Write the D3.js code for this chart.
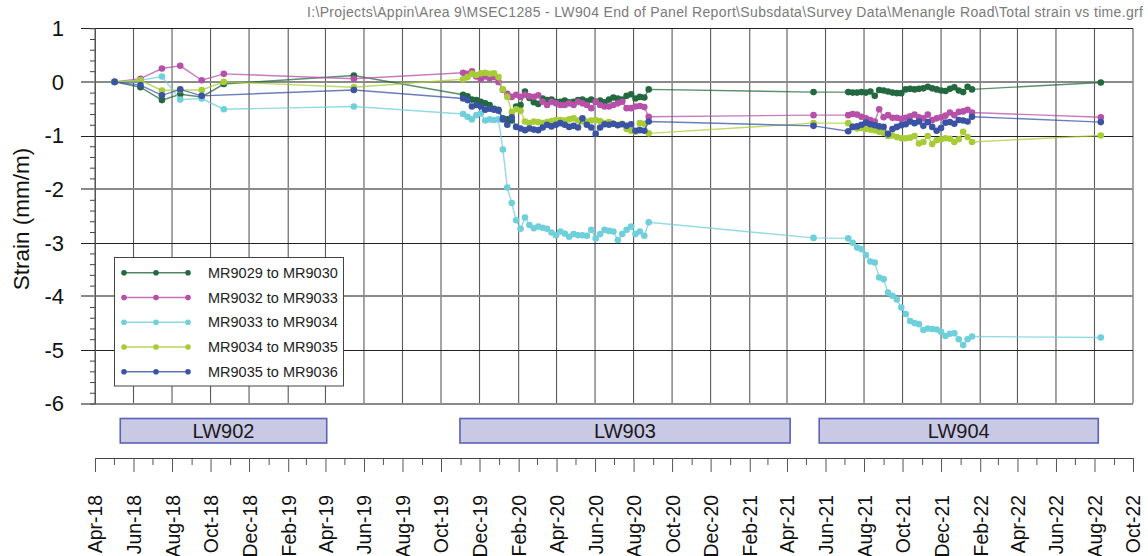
<!DOCTYPE html>
<html>
<head>
<meta charset="utf-8">
<script src="https://cdn.jsdelivr.net/npm/d3@7/dist/d3.min.js"></script>
<style>
  html, body { margin: 0; padding: 0; background: #fff; }
  svg { display: block; font-family: "Liberation Sans", Arial, sans-serif; }
</style>
</head>
<body>
<svg id="chart" width="1148" height="556"></svg>
<script>
// Survey dates (shared by all bays)
const surveyDates = [
  "2018-05-02","2018-06-12","2018-07-16","2018-08-14","2018-09-17","2018-10-22","2019-05-16",
  "2019-11-05","2019-11-12","2019-11-19","2019-11-26","2019-12-03","2019-12-10","2019-12-17","2019-12-24","2019-12-31",
  "2020-01-07","2020-01-14","2020-01-21","2020-01-28","2020-02-04","2020-02-11","2020-02-18","2020-02-25",
  "2020-03-03","2020-03-10","2020-03-17","2020-03-24","2020-03-31","2020-04-07","2020-04-14","2020-04-21","2020-04-28",
  "2020-05-05","2020-05-12","2020-05-19","2020-05-26","2020-06-02","2020-06-09","2020-06-16","2020-06-23","2020-06-30",
  "2020-07-07","2020-07-14","2020-07-21","2020-07-28","2020-08-04","2020-08-11","2020-08-18","2020-08-25",
  "2021-05-13",
  "2021-07-07","2021-07-14","2021-07-21","2021-07-28","2021-08-04","2021-08-11","2021-08-18","2021-08-25",
  "2021-09-01","2021-09-08","2021-09-15","2021-09-22","2021-09-29","2021-10-06","2021-10-13","2021-10-20","2021-10-27",
  "2021-11-03","2021-11-10","2021-11-17","2021-11-24","2021-12-01","2021-12-08","2021-12-15","2021-12-22","2021-12-29",
  "2022-01-05","2022-01-12","2022-01-19",
  "2022-08-11"
];

// Total strain (mm/m) per bay, one value per survey date (null = not surveyed)
const mr9029_mr9030 = [
  0, -0.10, -0.34, -0.23, -0.28, -0.04, 0.12,
  -0.24, -0.27, -0.33, -0.34, -0.37, -0.40, -0.43, -0.50, -0.52,
  -0.68, -0.70, -0.72, -0.46, -0.43, -0.18, -0.30, -0.38,
  -0.41, -0.31, -0.34, -0.33, -0.37, -0.37, -0.35, -0.38, -0.37,
  -0.34, -0.33, -0.36, -0.33, -0.37, -0.35, -0.38, -0.33, -0.29,
  -0.31, -0.33, -0.26, -0.23, -0.31, -0.28, -0.29, -0.14,
  -0.19,
  -0.19, -0.20, -0.20, -0.19, -0.20, -0.18, -0.26, -0.15,
  -0.16, -0.18, -0.20, -0.21, -0.21, -0.14, -0.13, -0.14, -0.13,
  -0.12, -0.09, -0.12, -0.14, -0.16, -0.17, -0.13, -0.10, -0.16,
  -0.19, -0.09, -0.14,
  -0.01
];
const mr9032_mr9033 = [
  0, 0.06, 0.25, 0.30, 0.03, 0.15, 0.06,
  0.17, 0.15, 0.20, 0.10, 0.05, 0.10, 0.07, 0.09, 0.00,
  -0.15, -0.22, -0.28, -0.24, -0.28, -0.24, -0.27, -0.28,
  -0.25, -0.37, -0.43, -0.37, -0.40, -0.43, -0.43, -0.40, -0.43,
  -0.37, -0.40, -0.43, -0.49, -0.37, -0.43, -0.46, -0.46, -0.43,
  -0.40, -0.37, -0.49, -0.49, -0.46, -0.45, -0.47, -0.65,
  -0.62,
  -0.62, -0.60, -0.61, -0.65, -0.68, -0.71, -0.74, -0.51,
  -0.66, -0.62, -0.67, -0.67, -0.69, -0.67, -0.64, -0.61, -0.66,
  -0.68, -0.61, -0.71, -0.68, -0.66, -0.63, -0.57, -0.62, -0.56,
  -0.55, -0.52, -0.57,
  -0.66
];
const mr9033_mr9034 = [
  0, 0.03, 0.10, -0.33, -0.31, -0.51, -0.46,
  -0.60, -0.65, -0.70, -0.62, -0.59, -0.72, -0.70, -0.71, -0.70,
  -1.26, -1.97, -2.26, -2.58, -2.74, -2.53, -2.67, -2.73,
  -2.70, -2.72, -2.74, -2.81, -2.86, -2.79, -2.83, -2.89, -2.84,
  -2.86, -2.86, -2.87, -2.76, -2.92, -2.84, -2.76, -2.78, -2.79,
  -2.95, -2.84, -2.76, -2.70, -2.84, -2.79, -2.87, -2.62,
  -2.91,
  -2.92, -3.00, -3.09, -3.12, -3.23, -3.35, -3.37, -3.65,
  -3.68, -3.93, -3.99, -4.06, -4.21, -4.33, -4.46, -4.50, -4.52,
  -4.63, -4.60, -4.61, -4.62, -4.66, -4.74, -4.70, -4.69, -4.80,
  -4.91, -4.80, -4.75,
  -4.77
];
const mr9034_mr9035 = [
  0, 0.03, -0.16, -0.15, -0.15, 0.00, -0.10,
  0.05, 0.09, 0.15, 0.13, 0.16, 0.17, 0.15, 0.16, 0.09,
  -0.14, -0.28, -0.56, -0.51, -0.54, -0.74, -0.77, -0.74,
  -0.75, -0.77, -0.75, -0.73, -0.71, -0.71, -0.72, -0.70, -0.68,
  -0.72, -0.74, -0.74, -0.72, -0.71, -0.73, -0.77, -0.75, -0.78,
  -0.80, -0.78, -0.88, -0.91, -0.93, -0.77, -0.78, -0.96,
  -0.77,
  -0.77, -0.84, -0.87, -0.86, -0.88, -0.89, -0.90, -0.93,
  -0.95, -1.01, -1.00, -1.03, -1.05, -1.05, -1.04, -1.01, -1.15,
  -1.12, -1.01, -1.16, -1.09, -1.07, -1.05, -1.06, -1.12, -1.07,
  -0.93, -1.03, -1.12,
  -1.00
];
const mr9035_mr9036 = [
  0, -0.06, -0.25, -0.14, -0.26, null, -0.15,
  -0.31, -0.34, -0.46, -0.43, -0.46, -0.52, -0.50, -0.52, -0.54,
  -0.70, -0.80, -0.66, -0.84, -0.87, -0.90, -0.87, -0.89,
  -0.90, -0.85, -0.80, -0.83, -0.80, -0.77, -0.80, -0.84, -0.82,
  -0.85, -0.68, -0.80, -0.85, -0.97, -0.85, -0.79, -0.80, -0.78,
  -0.81, -0.79, -0.82, -0.79, -0.91, -0.90, -0.91, -0.74,
  -0.82,
  -0.92, -0.84, -0.83, -0.80, -0.76, -0.79, -0.81, -0.83,
  -0.84, -0.97, -0.88, -0.84, -0.81, -0.79, -0.74, -0.77, -0.74,
  -0.82, -0.75, -0.84, -0.91, -0.86, -0.76, -0.75, -0.78, -0.71,
  -0.72, -0.74, -0.65,
  -0.75
];

const seriesNames = ["MR9029 to MR9030", "MR9032 to MR9033", "MR9033 to MR9034", "MR9034 to MR9035", "MR9035 to MR9036"];
const seriesValues = [mr9029_mr9030, mr9032_mr9033, mr9033_mr9034, mr9034_mr9035, mr9035_mr9036];
const seriesColors = ["#23693f", "#b650a8", "#6fcfdb", "#a7cc36", "#3a53a4"];

// Longwall extraction periods
const panelNames  = ["LW902", "LW903", "LW904"];
const panelStarts = ["2018-05-11", "2019-10-31", "2021-05-22"];
const panelEnds   = ["2019-04-03", "2021-04-06", "2022-08-07"];

const yTicks = [1, 0, -1, -2, -3, -4, -5, -6];
const fileLabel = "I:\\Projects\\Appin\\Area 9\\MSEC1285 - LW904 End of Panel Report\\Subsdata\\Survey Data\\Menangle Road\\Total strain vs time.grf";

const parse = d3.timeParse("%Y-%m-%d");
const dates = surveyDates.map(parse);

const svg = d3.select("#chart");

const x = d3.scaleTime()
  .domain([new Date(2018, 3, 1), new Date(2022, 9, 1)])
  .range([95, 1133]);
const y = d3.scaleLinear().domain([-6, 1]).range([403.5, 28.3]);

const allMonths = d3.timeMonth.range(new Date(2018, 3, 1), new Date(2022, 9, 2));
const majorMonths = allMonths.filter((d, i) => i % 2 === 0);
const minorMonths = allMonths.filter((d, i) => i % 2 === 1);

// file path header
svg.append("text")
  .attr("x", 1143).attr("y", 17)
  .attr("text-anchor", "end")
  .attr("font-size", 14)
  .attr("textLength", 836)
  .attr("lengthAdjust", "spacing")
  .attr("fill", "#7a7a7a")
  .text(fileLabel);

// vertical grid
svg.append("g").selectAll("line")
  .data(majorMonths)
  .join("line")
  .attr("x1", d => x(d)).attr("x2", d => x(d))
  .attr("y1", y(1)).attr("y2", y(-6))
  .attr("stroke", "#5a5a5a").attr("stroke-width", 1.1);

// horizontal grid, extending out as the major y ticks
svg.append("g").selectAll("line")
  .data(yTicks)
  .join("line")
  .attr("x1", 81).attr("x2", 1133)
  .attr("y1", d => d % 2 === 0 ? Math.round(y(d)) : Math.round(y(d)) + 0.5)
  .attr("y2", d => d % 2 === 0 ? Math.round(y(d)) : Math.round(y(d)) + 0.5)
  .attr("stroke", d => d % 2 === 0 ? "#8a8a8a" : "#222")
  .attr("stroke-width", d => d % 2 === 0 ? 2 : 1);

// y axis: minor ticks and labels
const yAxis = svg.append("g").attr("transform", "translate(95,0)");
yAxis.call(d3.axisLeft(y)
  .tickValues(d3.range(-6, 1.0001, 0.2).filter(v => Math.abs(v - Math.round(v)) > 1e-6))
  .tickSize(5).tickFormat(""));
yAxis.select(".domain").attr("stroke", "#555");
yAxis.selectAll(".tick line").attr("stroke", "#444");

svg.append("g").selectAll("text")
  .data(yTicks)
  .join("text")
  .attr("x", 64)
  .attr("y", d => y(d))
  .attr("dy", "0.36em")
  .attr("text-anchor", "end")
  .attr("font-size", 22)
  .attr("fill", "#111")
  .text(d => d);

// y title
svg.append("text")
  .attr("transform", "translate(29,219) rotate(-90)")
  .attr("text-anchor", "middle")
  .attr("font-size", 22.5)
  .attr("fill", "#111")
  .text("Strain (mm/m)");

// series
const line = d3.line()
  .x(d => x(d.date))
  .y(d => y(d.v));

seriesValues.forEach((vals, s) => {
  const present = vals
    .map((v, i) => ({ date: dates[i], v }))
    .filter(d => d.v !== null);
  const g = svg.append("g");
  g.append("path")
    .datum(present)
    .attr("d", line)
    .attr("fill", "none")
    .attr("stroke", seriesColors[s])
    .attr("stroke-opacity", 0.75)
    .attr("stroke-width", 1.4);
  g.selectAll("circle")
    .data(present)
    .join("circle")
    .attr("cx", d => x(d.date))
    .attr("cy", d => y(d.v))
    .attr("r", 3.3)
    .attr("fill", seriesColors[s]);
});

// legend
const legend = svg.append("g");
legend.append("rect")
  .attr("x", 114.5).attr("y", 257.5)
  .attr("width", 229).attr("height", 128.5)
  .attr("fill", "#fff").attr("stroke", "#444").attr("stroke-width", 1);
seriesNames.forEach((name, s) => {
  const ry = 272.7 + s * 24.75;
  legend.append("line")
    .attr("x1", 124).attr("x2", 188).attr("y1", ry).attr("y2", ry)
    .attr("stroke", seriesColors[s]).attr("stroke-opacity", 0.8).attr("stroke-width", 1.5);
  [124, 156, 188].forEach(cx => legend.append("circle")
    .attr("cx", cx).attr("cy", ry).attr("r", 2.8).attr("fill", seriesColors[s]));
  legend.append("text")
    .attr("x", 208).attr("y", ry).attr("dy", "0.36em")
    .attr("font-size", 14.5).attr("fill", "#222")
    .text(name);
});

// longwall panels
const panels = svg.append("g");
panelNames.forEach((name, i) => {
  const x0 = x(parse(panelStarts[i])), x1 = x(parse(panelEnds[i]));
  panels.append("rect")
    .attr("x", x0).attr("y", 418.5)
    .attr("width", x1 - x0).attr("height", 24.5)
    .attr("fill", "#c9c8e5").attr("stroke", "#5b63b6").attr("stroke-width", 1.6);
  panels.append("text")
    .attr("x", (x0 + x1) / 2).attr("y", 438.3)
    .attr("text-anchor", "middle")
    .attr("font-size", 20).attr("fill", "#1a1a1a")
    .text(name);
});

// time axis
const fmt = d3.timeFormat("%b-%y");
const xMinor = svg.append("g").attr("transform", "translate(0,458)");
xMinor.call(d3.axisBottom(x).tickValues(minorMonths).tickSize(7).tickFormat(""));
xMinor.select(".domain").remove();
xMinor.selectAll(".tick line").attr("stroke", "#555");

const xAxis = svg.append("g").attr("transform", "translate(0,458)");
xAxis.call(d3.axisBottom(x).tickValues(majorMonths).tickSizeInner(14).tickSizeOuter(0).tickFormat(fmt));
xAxis.select(".domain").attr("stroke", "#444");
xAxis.selectAll(".tick line").attr("stroke", "#555");
xAxis.selectAll(".tick text")
  .attr("font-size", 19.4)
  .attr("fill", "#111")
  .attr("font-family", "Liberation Sans, Arial, sans-serif")
  .attr("text-anchor", "end")
  .attr("transform", "rotate(-90)")
  .attr("x", -37)
  .attr("y", 0)
  .attr("dy", "0.36em");
</script>
</body>
</html>
